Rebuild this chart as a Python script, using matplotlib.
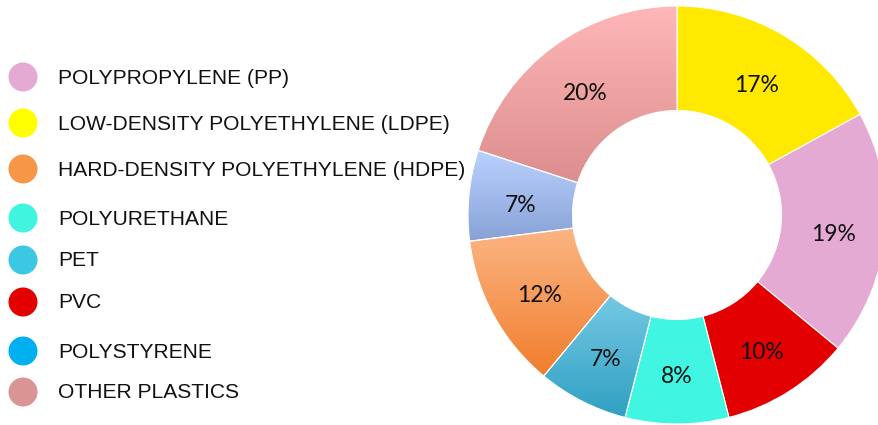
import numpy as np
import matplotlib
matplotlib.use("Agg")
import matplotlib.pyplot as plt
from matplotlib.patches import Circle, PathPatch
from matplotlib.colors import LinearSegmentedColormap
from matplotlib.transforms import ScaledTranslation

# donut slices, clockwise from 12 o'clock
slice_names = ['LDPE', 'PP', 'PVC', 'POLYURETHANE', 'PET', 'HDPE', 'POLYSTYRENE', 'OTHER']
slice_values = [17, 19, 10, 8, 7, 12, 7, 20]

# legend entries (top to bottom)
legend_labels = ['POLYPROPYLENE (PP)', 'LOW-DENSITY POLYETHYLENE (LDPE)',
                 'HARD-DENSITY POLYETHYLENE (HDPE)', 'POLYURETHANE', 'PET', 'PVC',
                 'POLYSTYRENE', 'OTHER PLASTICS']
legend_colors = ['#E4AAD4', '#FFFF00', '#F79646', '#40F5E0', '#3CC8E2', '#E30000',
                 '#00B0F0', '#D99594']
legend_y = [77, 123, 169, 218, 260, 302, 351, 392]

# slice fill: solid colour or (top, bottom) gradient
slice_fill = {
    'LDPE': '#FFE900',
    'PP': '#E4AAD4',
    'PVC': '#E30000',
    'POLYURETHANE': '#40F5E2',
    'PET': ('#A3E4FA', '#30A0C2'),
    'HDPE': ('#FDBA8C', '#F07E2C'),
    'POLYSTYRENE': ('#BAD2FF', '#88A2D6'),
    'OTHER': ('#FFB7B7', '#D68686'),
}

W, H = 879, 425
fig = plt.figure(figsize=(W / 100, H / 100), dpi=100)

# legend drawn in pixel coordinates
leg = fig.add_axes([0, 0, 1, 1])
leg.set_xlim(0, W)
leg.set_ylim(H, 0)
leg.axis('off')
for lab, col, y in zip(legend_labels, legend_colors, legend_y):
    leg.add_patch(Circle((23, y), 14.5, facecolor=col, edgecolor='none'))
    leg.text(58, y + 1, lab, fontsize=15.1, va='center', ha='left', color='#111111',
             family='Liberation Sans')

# donut
cx, cy, r = 677, 215, 209
ax = fig.add_axes([(cx - r) / W, (H - cy - r) / H, 2 * r / W, 2 * r / H])
ax.set_xlim(-1, 1)
ax.set_ylim(-1, 1)
ax.axis('off')

solid = [c if isinstance(c, str) else c[0] for c in (slice_fill[n] for n in slice_names)]
wedges, _, pcts = ax.pie(slice_values, colors=solid, startangle=90, counterclock=False,
                         radius=1, autopct='%1.0f%%', pctdistance=0.75,
                         wedgeprops=dict(width=0.5, edgecolor='white', linewidth=0.8),
                         textprops=dict(fontsize=16.5, family='Lato', color='#111111'))

for w, name in zip(wedges, slice_names):
    fill = slice_fill[name]
    if isinstance(fill, str):
        continue
    verts = w.get_path().vertices
    x0, x1 = verts[:, 0].min(), verts[:, 0].max()
    y0, y1 = verts[:, 1].min(), verts[:, 1].max()
    cmap = LinearSegmentedColormap.from_list(name, [fill[1], fill[0]])
    grad = np.linspace(0, 1, 256).reshape(-1, 1)
    im = ax.imshow(grad, cmap=cmap, origin='lower', aspect='auto',
                   extent=(x0, x1, y0, y1), zorder=w.get_zorder() + 0.1)
    im.set_clip_path(w)
    # keep white separators on top
    ax.add_patch(PathPatch(w.get_path(), fill=False, edgecolor='white',
                           linewidth=0.8, zorder=w.get_zorder() + 0.2))

# labels sit a little lower in the original
shift = ScaledTranslation(0, -5 / 100, fig.dpi_scale_trans)
for t in pcts:
    t.set_zorder(10)
    t.set_transform(t.get_transform() + shift)

ax.set_xlim(-1, 1)
ax.set_ylim(-1, 1)

fig.savefig('out.png', dpi=100)
